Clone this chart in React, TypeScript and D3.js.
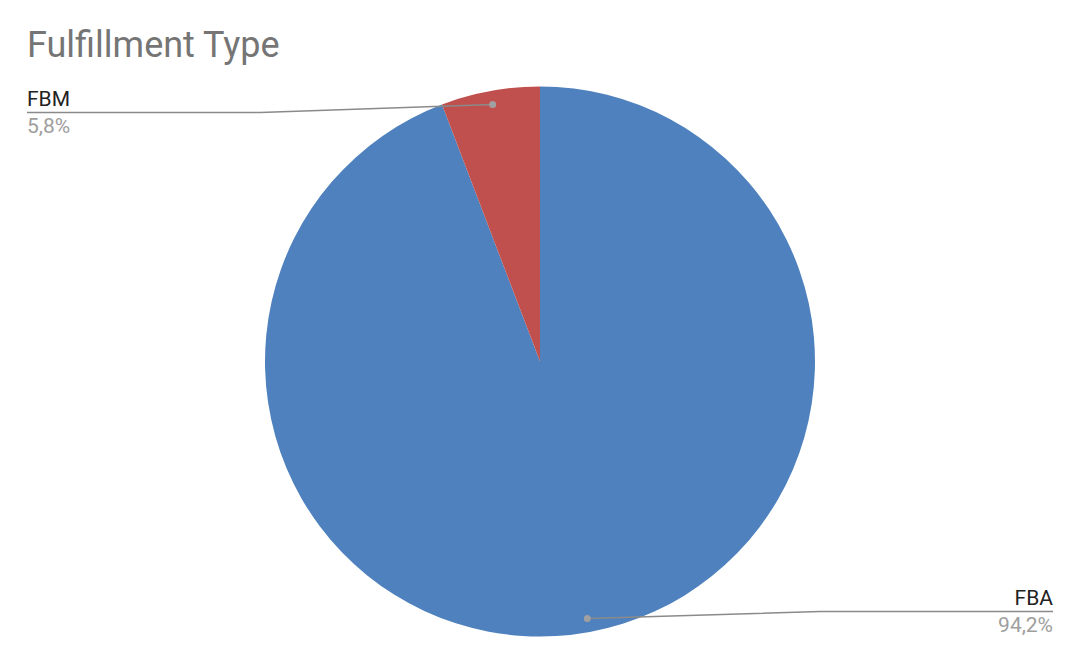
import * as d3 from "d3";
import React from "react";

const categories = ["FBA", "FBM"];
const shares = [94.2, 5.8];
const colors = ["#4e81bd", "#c0504e"];

const width = 1078;
const height = 662;

export default function App() {
  const svgRef = React.useRef<SVGSVGElement | null>(null);

  React.useEffect(() => {
    const svg = d3.select(svgRef.current);
    svg.selectAll("*").remove();

    const cx = 540;
    const cy = 361.5;
    const radius = 275;

    const data = categories.map((c, i) => ({ name: c, value: shares[i], color: colors[i] }));
    const pie = d3
      .pie<{ name: string; value: number; color: string }>()
      .sort(null)
      .value((d) => d.value);
    const arcs = pie(data);
    const arc = d3.arc<d3.PieArcDatum<{ name: string; value: number; color: string }>>()
      .innerRadius(0)
      .outerRadius(radius);
    const dotArc = d3.arc<d3.PieArcDatum<{ name: string; value: number; color: string }>>()
      .innerRadius(radius * 0.95)
      .outerRadius(radius * 0.95);

    const g = svg.append("g").attr("transform", `translate(${cx},${cy})`);
    g.selectAll("path.slice")
      .data(arcs)
      .join("path")
      .attr("class", "slice")
      .attr("d", arc)
      .attr("fill", (d) => d.data.color);

    svg
      .append("text")
      .attr("x", 27)
      .attr("y", 57)
      .attr("font-family", "Roboto")
      .attr("font-size", 36)
      .attr("fill", "#757575")
      .text("Fulfillment Type");

    arcs.forEach((d) => {
      const [px, py] = dotArc.centroid(d);
      const dx = cx + px;
      const dy = cy + py;
      const left = dx < cx;
      const lineY = left ? 112.5 : 611.5;
      const endX = left ? 27 : 1053;
      const bendX = left ? 260 : 820;
      const line = d3.line();
      svg
        .append("path")
        .attr("d", line([[dx, dy], [bendX, lineY], [endX, lineY]]))
        .attr("fill", "none")
        .attr("stroke", "#8a8a8a")
        .attr("stroke-width", 1.5);
      svg
        .append("circle")
        .attr("cx", dx)
        .attr("cy", dy)
        .attr("r", 3.5)
        .attr("fill", "#a0a0a0");
      svg
        .append("text")
        .attr("x", endX)
        .attr("y", lineY - 7)
        .attr("text-anchor", left ? "start" : "end")
        .attr("font-family", "Roboto")
        .attr("font-size", 21)
        .attr("fill", "#222")
        .text(d.data.name);
      svg
        .append("text")
        .attr("x", endX)
        .attr("y", lineY + 20)
        .attr("text-anchor", left ? "start" : "end")
        .attr("font-family", "Roboto")
        .attr("font-size", 21)
        .attr("fill", "#9e9e9e")
        .text(d.data.value.toFixed(1).replace(".", ",") + "%");
    });
  }, []);

  return (
    <svg
      ref={svgRef}
      width={width}
      height={height}
      viewBox={`0 0 ${width} ${height}`}
      style={{ position: "absolute", left: 0, top: 0, background: "#fff" }}
    ></svg>
  );
}
